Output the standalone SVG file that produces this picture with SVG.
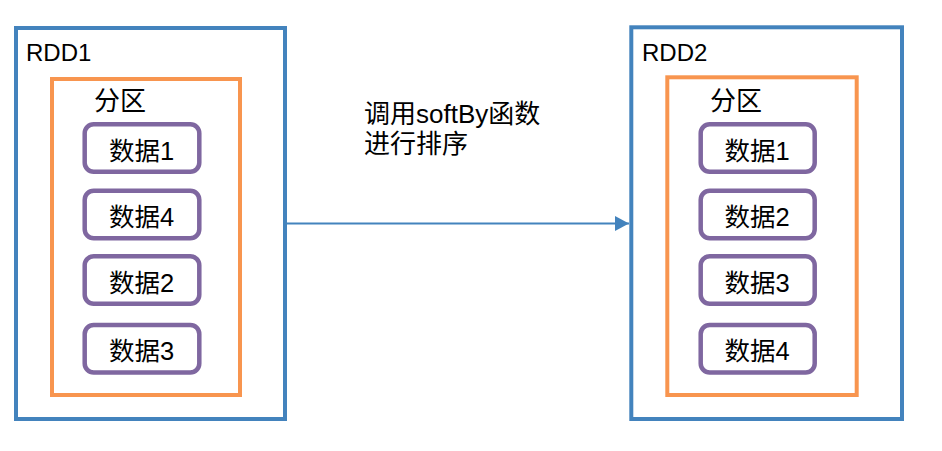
<svg xmlns="http://www.w3.org/2000/svg" width="942" height="451" viewBox="0 0 942 451">
<style>
.rdd{fill:none;stroke:#4383BD;stroke-width:4}
.part{fill:none;stroke:#F8954F;stroke-width:4}
.data{fill:#fff;stroke:#7F67A0;stroke-width:4.5}
text{font-family:"Liberation Sans","Noto Sans CJK SC",sans-serif;font-size:26px;fill:#000}
.t{font-size:24px}
.c{text-anchor:middle;font-size:25.5px}
</style>
<defs>
<marker id="arr" markerWidth="14" markerHeight="15" refX="14" refY="7.5" orient="auto" markerUnits="userSpaceOnUse">
<path d="M0,0 L14,7.5 L0,15 Z" fill="#4383BD"/>
</marker>
</defs>
<g id="connectors">
<line x1="287" y1="223.5" x2="629" y2="223.5" stroke="#4383BD" stroke-width="2" marker-end="url(#arr)"/>
<text x="364" y="123">调用softBy函数</text>
<text x="364" y="153">进行排序</text>
</g>
<g id="rdd1">
<rect class="rdd" x="16" y="28" width="269" height="391"/>
<text class="t" x="26" y="61">RDD1</text>
<rect class="part" x="52" y="79" width="188" height="316"/>
<text x="94" y="110">分区</text>
</g>
<g id="rdd1-d1"><rect class="data" x="84.7" y="124.2" width="114.6" height="47.6" rx="9"/><text class="c" x="141.5" y="159.5">数据1</text></g>
<g id="rdd1-d4"><rect class="data" x="84.7" y="190.7" width="114.6" height="47.6" rx="9"/><text class="c" x="141.5" y="226">数据4</text></g>
<g id="rdd1-d2"><rect class="data" x="84.7" y="256.2" width="114.6" height="47.6" rx="9"/><text class="c" x="141.5" y="291.5">数据2</text></g>
<g id="rdd1-d3"><rect class="data" x="84.7" y="324.9" width="114.6" height="47.6" rx="9"/><text class="c" x="141.5" y="360.2">数据3</text></g>
<g id="rdd2">
<rect class="rdd" x="631.3" y="27.3" width="270.7" height="391.7"/>
<text class="t" x="642" y="61">RDD2</text>
<rect class="part" x="667.3" y="77.3" width="189.4" height="317.7"/>
<text x="710" y="110">分区</text>
</g>
<g id="rdd2-d1"><rect class="data" x="700.7" y="124.2" width="114" height="47.6" rx="9"/><text class="c" x="757.2" y="159.5">数据1</text></g>
<g id="rdd2-d2"><rect class="data" x="700.7" y="190.7" width="114" height="47.6" rx="9"/><text class="c" x="757.2" y="226">数据2</text></g>
<g id="rdd2-d3"><rect class="data" x="700.7" y="256.2" width="114" height="47.6" rx="9"/><text class="c" x="757.2" y="291.5">数据3</text></g>
<g id="rdd2-d4"><rect class="data" x="700.7" y="324.9" width="114" height="47.6" rx="9"/><text class="c" x="757.2" y="360.2">数据4</text></g>
</svg>
